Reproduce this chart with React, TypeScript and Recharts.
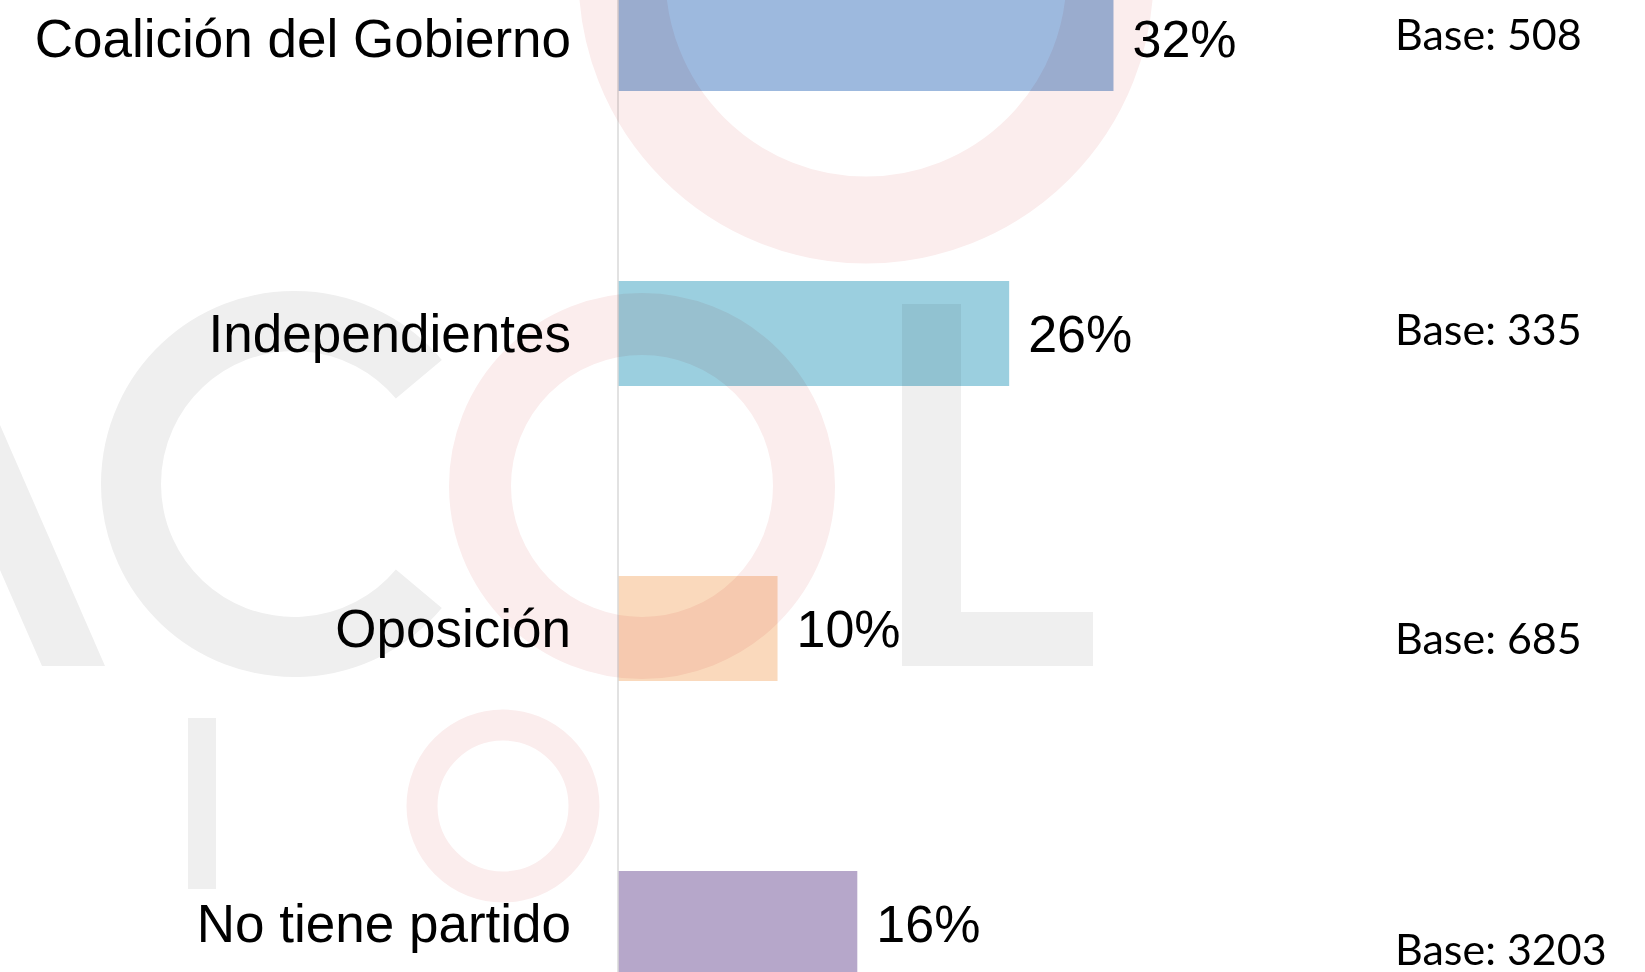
import { BarChart, Bar, XAxis, YAxis, Cell, LabelList } from "recharts"

const categories = ["Coalición del Gobierno", "Independientes", "Oposición", "No tiene partido"]
const shares = [32.3, 25.5, 10.4, 15.6]
const bases = [508, 335, 685, 3203]
const barColors = ["#9DB9DE", "#9BCFDF", "#FAD9BC", "#B6A7CA"]

const data = categories.map((name, i) => ({ name, value: shares[i], base: bases[i], fill: barColors[i] }))

// the base notes don't sit exactly on the bar centres in the original
const baseNudge = [-4, -4, 10, 26]

const PINK = "#FBEDED"
const GRAY = "#EFEFEF"

function CategoryTick({ x, y, payload }: any) {
  return (
    <text x={x} y={y} dy="0.355em" textAnchor="end" fontSize={53} fill="#000" fontFamily="'Liberation Sans', Arial, sans-serif">
      {payload.value}
    </text>
  )
}

function BaseLabel({ y, height, index, value }: any) {
  const cy = Number(y) + Number(height) / 2 + baseNudge[index]
  return (
    <text x={1395} y={cy} dy="0.36em" fontSize={43} fill="#000" fontFamily="Lato, 'Noto Sans', sans-serif">
      {`Base: ${value}`}
    </text>
  )
}

function Watermark() {
  const r = 163
  const cx = 294
  const cy = 484
  const a = (40 * Math.PI) / 180
  const x1 = cx + r * Math.cos(a)
  const yTop = cy - r * Math.sin(a)
  const yBot = cy + r * Math.sin(a)
  return (
    <svg
      width={1645}
      height={972}
      style={{ position: "absolute", left: 0, top: 0, mixBlendMode: "multiply", pointerEvents: "none" }}
    >
      <circle cx={866} cy={-24} r={244} fill="none" stroke={PINK} strokeWidth={87} />
      <path d={`M ${x1} ${yTop} A ${r} ${r} 0 1 0 ${x1} ${yBot}`} fill="none" stroke={GRAY} strokeWidth={60} />
      <polygon points="0,425 105,666 42,666 0,570" fill={GRAY} />
      <circle cx={642} cy={486} r={162} fill="none" stroke={PINK} strokeWidth={62} />
      <rect x={902} y={304} width={59} height={362} fill={GRAY} />
      <rect x={961} y={612} width={132} height={54} fill={GRAY} />
      <rect x={188} y={718} width={28} height={171} fill={GRAY} />
      <circle cx={503} cy={806} r={81} fill="none" stroke={PINK} strokeWidth={31} />
    </svg>
  )
}

export default function App() {
  return (
    <div style={{ position: "absolute", left: 0, top: 0, width: 1645, height: 972, overflow: "hidden", background: "#fff" }}>
      <div style={{ position: "absolute", left: 0, top: -109 }}>
        <BarChart
          width={1645}
          height={1180}
          data={data}
          layout="vertical"
          margin={{ top: 0, right: 260, bottom: 0, left: 0 }}
          barSize={105}
        >
          <XAxis type="number" domain={[0, 50]} hide />
          <YAxis
            type="category"
            dataKey="name"
            width={618}
            tick={<CategoryTick />}
            tickLine={false}
            tickSize={0}
            tickMargin={47}
            axisLine={{ stroke: "#D9D9D9", strokeWidth: 1.5 }}
          />
          <Bar dataKey="value" isAnimationActive={false}>
            {data.map((d, i) => (
              <Cell key={`cell-${i}`} fill={d.fill} />
            ))}
            <LabelList
              dataKey="value"
              position="right"
              offset={19}
              formatter={(v: any) => `${Math.round(Number(v))}%`}
              style={{ fontSize: 52, fill: "#000", fontFamily: "'Liberation Sans', Arial, sans-serif" }}
            />
            <LabelList dataKey="base" content={<BaseLabel />} />
          </Bar>
        </BarChart>
      </div>
      <Watermark />
    </div>
  )
}
